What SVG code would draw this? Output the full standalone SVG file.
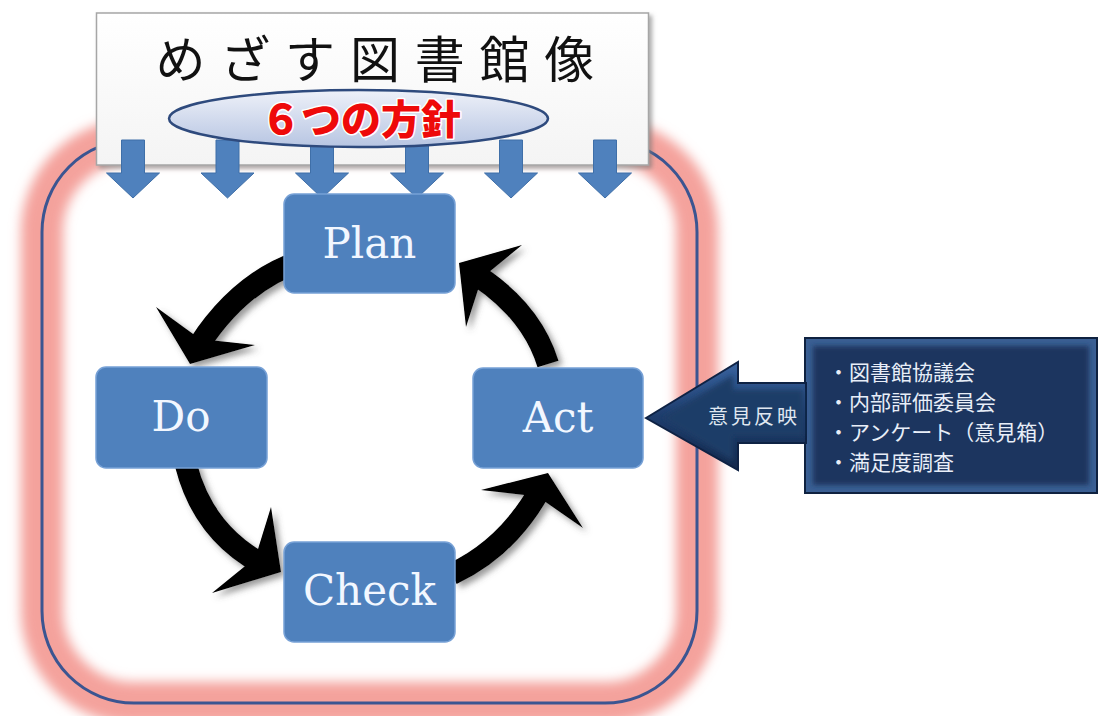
<svg xmlns="http://www.w3.org/2000/svg" width="1100" height="716" viewBox="0 0 1100 716">
  <defs>
    <style>
      .node rect { fill: #4f81bd; stroke: #77a1d6; stroke-width: 1.5; }
      .node text { font-family: "DejaVu Serif", "Liberation Serif", serif; font-size: 42px; fill: #f2f7ff; text-anchor: middle; }
      .band { fill: none; stroke: #000; stroke-width: 22; stroke-linecap: butt; }
      .head { fill: #000; }
      .dn { fill: #4f81bd; stroke: #3f6fa8; stroke-width: 1; }
      .fbtext { font-family: "Noto Sans CJK JP", "Noto Sans CJK SC", sans-serif; font-size: 21px; fill: #e8eef8; }
    </style>
    <linearGradient id="titleGrad" x1="0" y1="0" x2="0" y2="1">
      <stop offset="0" stop-color="#ffffff"/>
      <stop offset="1" stop-color="#f4f4f4"/>
    </linearGradient>
    <linearGradient id="ellGrad" x1="0" y1="0" x2="0" y2="1">
      <stop offset="0" stop-color="#eef1f9"/>
      <stop offset="1" stop-color="#b7c5e2"/>
    </linearGradient>
    <linearGradient id="fbGrad" x1="0" y1="0" x2="0" y2="1">
      <stop offset="0" stop-color="#3a64a0"/>
      <stop offset="0.5" stop-color="#1f3d6c"/>
      <stop offset="1" stop-color="#14294c"/>
    </linearGradient>
    <filter id="glow" x="-10%" y="-10%" width="120%" height="120%">
      <feGaussianBlur stdDeviation="6"/>
    </filter>
    <filter id="shadow" x="-10%" y="-10%" width="130%" height="130%">
      <feDropShadow dx="3" dy="3" stdDeviation="2" flood-color="#777" flood-opacity="0.6"/>
    </filter>
    <filter id="ashadow" x="-20%" y="-20%" width="150%" height="150%">
      <feDropShadow dx="4" dy="4" stdDeviation="3" flood-color="#555" flood-opacity="0.6"/>
    </filter>
    <filter id="soft" x="-5%" y="-5%" width="110%" height="110%">
      <feGaussianBlur stdDeviation="2.5"/>
    </filter>
    <path id="dn" d="M-11.5,0 H11.5 V33 H26.5 L0,58 L-26.5,33 H-11.5 Z"/>
  </defs>

  <rect x="0" y="0" width="1100" height="716" fill="#ffffff"/>

  <!-- outer frame -->
  <g id="frame">
    <rect x="42" y="140" width="655" height="563" rx="92" fill="none" stroke="#f4a29c" stroke-width="42" filter="url(#glow)"/>
    <rect x="42" y="140" width="655" height="563" rx="92" fill="none" stroke="#3b5591" stroke-width="3"/>
  </g>

  <!-- title -->
  <g id="title">
    <rect x="96.5" y="13" width="552" height="152" fill="url(#titleGrad)" stroke="#a6a6a6" stroke-width="1.5" filter="url(#shadow)"/>
    <text x="155.5" y="78" font-family="Noto Sans CJK JP, Noto Sans CJK SC, sans-serif" font-size="50" letter-spacing="14.8" fill="#111">めざす図書館像</text>
  </g>

  <!-- down arrows -->
  <g id="policy-arrows">
    <use href="#dn" class="dn" x="133" y="140"/>
    <use href="#dn" class="dn" x="227.5" y="140"/>
    <use href="#dn" class="dn" x="322" y="140"/>
    <use href="#dn" class="dn" x="417" y="140"/>
    <use href="#dn" class="dn" x="511" y="140"/>
    <use href="#dn" class="dn" x="605" y="140"/>
  </g>

  <!-- six policies ellipse -->
  <g id="policies">
    <ellipse cx="358.5" cy="118.5" rx="189.5" ry="28.5" fill="url(#ellGrad)" stroke="#2e4a7d" stroke-width="2.5"/>
    <text x="361" y="134" text-anchor="middle" font-family="Noto Sans CJK JP, Noto Sans CJK SC, sans-serif" font-size="40" font-weight="900" fill="#ee0a0a" stroke="#ffffff" stroke-width="3" paint-order="stroke" stroke-linejoin="round">６つの方針</text>
  </g>

  <!-- cycle connectors -->
  <g id="connectors" filter="url(#ashadow)">
    <path class="band" d="M288 266 Q236 288 199 345"/>
    <polygon class="head" points="156,307 190,364 255,345 200,339"/>
    <path class="band" d="M186 465 Q203 532 262 564"/>
    <polygon class="head" points="271,507 281,572 212,593 255.3,557.7"/>
    <path class="band" d="M452 574 Q508 548 541 488"/>
    <polygon class="head" points="481,490 548,473 583,528 537.6,496.4"/>
    <path class="band" d="M548 364 Q532 312 478 276"/>
    <polygon class="head" points="466,327 459,263 522,245 481.8,278"/>
  </g>

  <!-- PDCA nodes -->
  <g id="plan" class="node">
    <rect x="284" y="194" width="171" height="99" rx="10"/>
    <text x="369.5" y="258">Plan</text>
  </g>
  <g id="do" class="node">
    <rect x="96" y="367" width="171" height="101" rx="10"/>
    <text x="181" y="431">Do</text>
  </g>
  <g id="act" class="node">
    <rect x="473" y="368" width="170" height="100" rx="10"/>
    <text x="558" y="432">Act</text>
  </g>
  <g id="check" class="node">
    <rect x="284" y="542" width="171" height="100" rx="10"/>
    <text x="369.5" y="605">Check</text>
  </g>

  <!-- feedback -->
  <g id="feedback-sources">
    <rect x="805" y="338" width="292" height="155" fill="#3a5f93" stroke="#0f2240" stroke-width="2"/>
    <rect x="813" y="346" width="276" height="139" fill="#1b355e" filter="url(#soft)"/>
    <text class="fbtext" x="828" y="380">・図書館協議会</text>
    <text class="fbtext" x="828" y="410">・内部評価委員会</text>
    <text class="fbtext" x="828" y="440">・アンケート（意見箱）</text>
    <text class="fbtext" x="828" y="470">・満足度調査</text>
  </g>
  <g id="feedback-arrow">
    <polygon points="646,418 738,362 738,383 806,383 806,443 738,443 738,470" fill="url(#fbGrad)" stroke="#0e2244" stroke-width="2"/>
    <polygon points="662,418 733,375 733,390 803,390 803,436 733,436 733,461" fill="#1f3c68" filter="url(#soft)"/>
    <text x="708" y="424" font-family="Noto Sans CJK JP, Noto Sans CJK SC, sans-serif" font-size="20" letter-spacing="3" fill="#dfe6f0">意見反映</text>
  </g>
</svg>
